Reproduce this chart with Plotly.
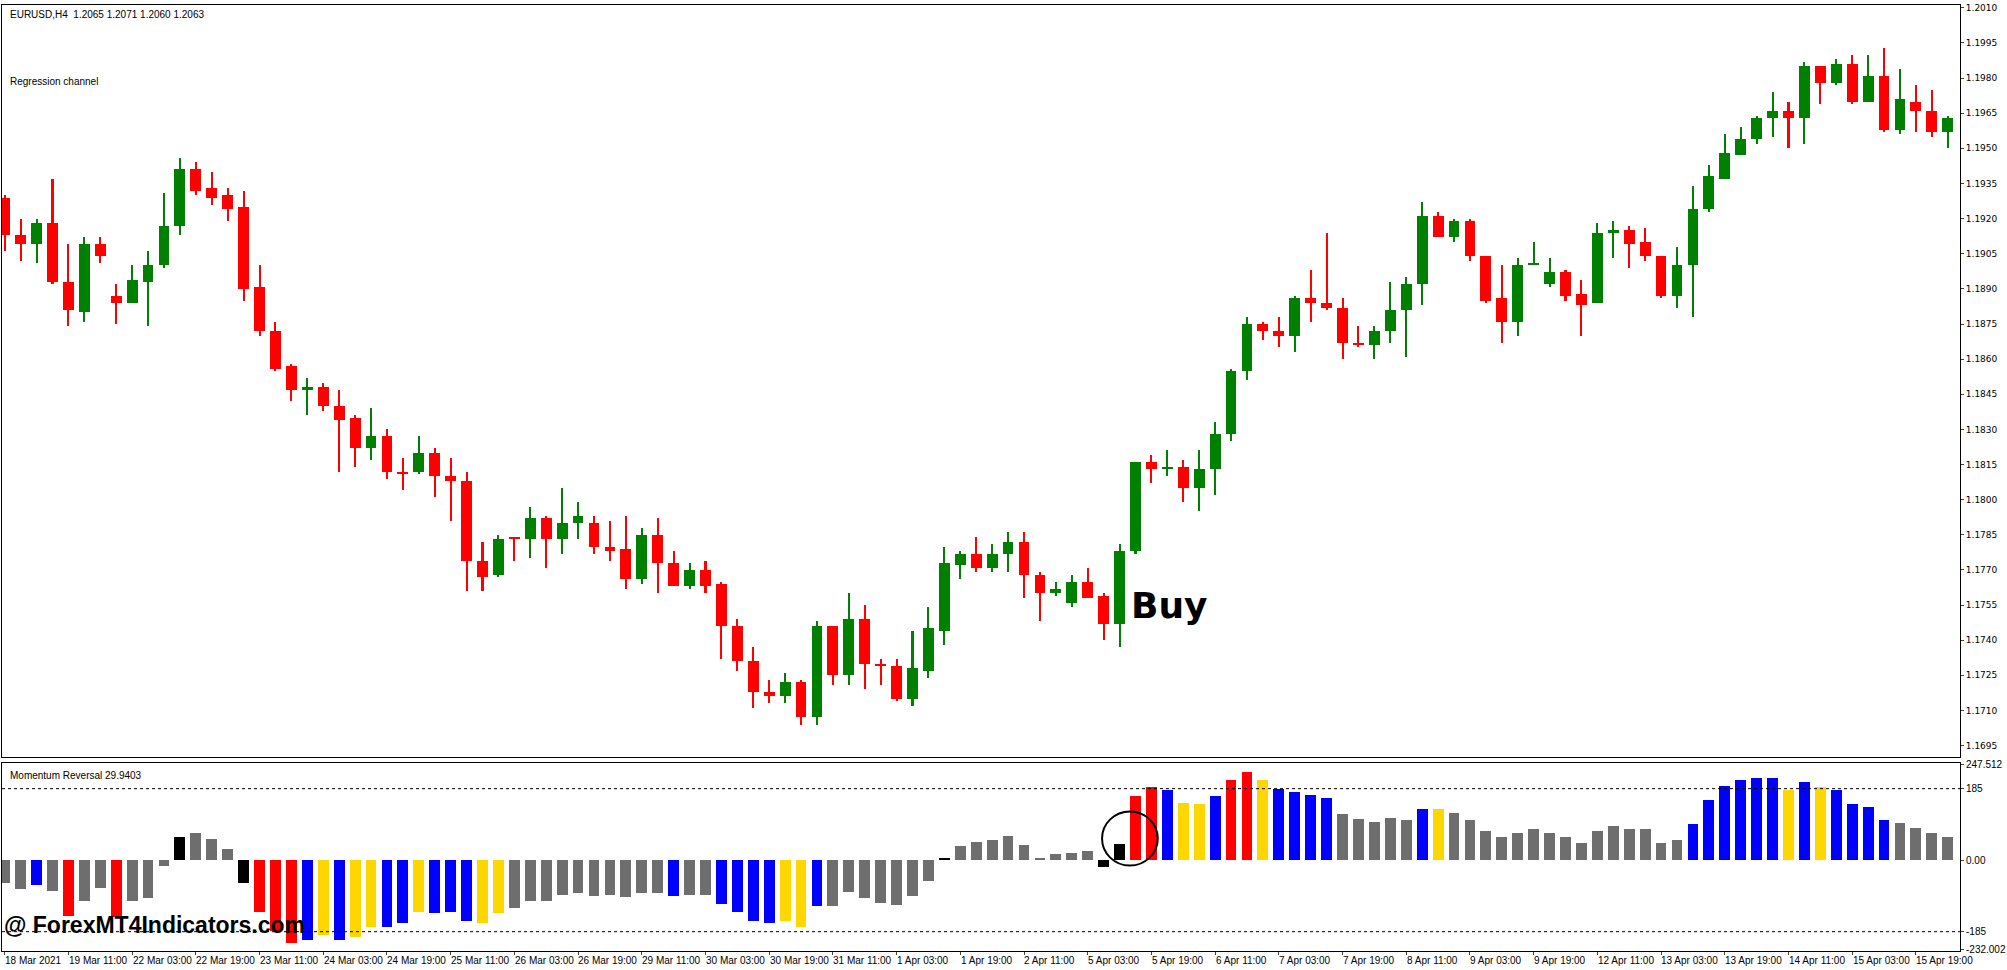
import plotly.graph_objects as go

opens = [1.1929,1.1913,1.1909,1.1918,1.1893,1.1880,1.1909,1.1887,1.1884,1.1893,1.1900,1.1917,1.1941,1.1933,1.1930,1.1925,1.1891,1.1872,1.1857,1.1847,
         1.1848,1.1840,1.1835,1.1822,1.1827,1.1812,1.1812,1.1820,1.1810,1.1808,1.1774,1.1768,1.1784,1.1783,1.1792,1.1783,1.1790,1.1790,1.1780,1.1779,
         1.1766,1.1785,1.1773,1.1763,1.1770,1.1764,1.1746,1.1731,1.1718,1.1716,1.1722,1.1707,1.1746,1.1725,1.1749,1.1730,1.1729,1.1715,1.1727,1.1744,
         1.1772,1.1777,1.1771,1.1777,1.1782,1.1768,1.1760,1.1756,1.1765,1.1759,1.1747,1.1778,1.1816,1.1813,1.1814,1.1805,1.1813,1.1828,1.1855,1.1875,
         1.1872,1.1870,1.1886,1.1884,1.1882,1.1867,1.1866,1.1872,1.1881,1.1892,1.1921,1.1912,1.1919,1.1904,1.1886,1.1876,1.1900,1.1892,1.1897,1.1888,
         1.1884,1.1914,1.1915,1.1910,1.1904,1.1887,1.1900,1.1924,1.1937,1.1947,1.1954,1.1963,1.1966,1.1963,1.1985,1.1978,1.1986,1.1970,1.1981,1.1958,
         1.1970,1.1966,1.1957]
highs = [1.1930,1.1920,1.1920,1.1937,1.1909,1.1912,1.1912,1.1892,1.1900,1.1906,1.1931,1.1946,1.1944,1.1940,1.1933,1.1932,1.1900,1.1876,1.1858,1.1852,
         1.1850,1.1847,1.1836,1.1839,1.1830,1.1818,1.1827,1.1822,1.1818,1.1812,1.1782,1.1785,1.1784,1.1797,1.1793,1.1805,1.1799,1.1793,1.1791,1.1793,
         1.1788,1.1792,1.1778,1.1773,1.1774,1.1765,1.1749,1.1737,1.1723,1.1726,1.1723,1.1748,1.1746,1.1760,1.1755,1.1732,1.1732,1.1744,1.1754,1.1780,
         1.1778,1.1784,1.1781,1.1786,1.1786,1.1769,1.1765,1.1768,1.1771,1.1760,1.1781,1.1816,1.1819,1.1821,1.1817,1.1821,1.1833,1.1856,1.1878,1.1876,
         1.1878,1.1887,1.1898,1.1914,1.1886,1.1874,1.1874,1.1893,1.1895,1.1927,1.1923,1.1920,1.1920,1.1904,1.1900,1.1903,1.1910,1.1903,1.1898,1.1894,
         1.1918,1.1919,1.1917,1.1916,1.1904,1.1908,1.1934,1.1943,1.1956,1.1959,1.1964,1.1974,1.1970,1.1987,1.1985,1.1988,1.1990,1.1990,1.1993,1.1984,
         1.1977,1.1975,1.1964]
lows = [1.1906,1.1902,1.1901,1.1892,1.1874,1.1876,1.1901,1.1875,1.1884,1.1874,1.1899,1.1913,1.1930,1.1926,1.1919,1.1885,1.1870,1.1855,1.1842,1.1836,
        1.1838,1.1812,1.1814,1.1817,1.1809,1.1804,1.1811,1.1801,1.1791,1.1761,1.1761,1.1767,1.1774,1.1775,1.1771,1.1777,1.1783,1.1777,1.1774,1.1762,
        1.1764,1.1760,1.1763,1.1762,1.1760,1.1732,1.1727,1.1711,1.1713,1.1713,1.1704,1.1704,1.1721,1.1721,1.1719,1.1721,1.1714,1.1712,1.1724,1.1738,
        1.1766,1.1769,1.1769,1.1769,1.1758,1.1748,1.1759,1.1754,1.1758,1.1740,1.1737,1.1777,1.1807,1.1810,1.1799,1.1795,1.1802,1.1825,1.1851,1.1868,
        1.1865,1.1863,1.1876,1.1881,1.1860,1.1865,1.1860,1.1867,1.1861,1.1883,1.1912,1.1910,1.1902,1.1884,1.1867,1.1870,1.1900,1.1891,1.1885,1.1870,
        1.1884,1.1903,1.1899,1.1902,1.1886,1.1882,1.1878,1.1923,1.1937,1.1947,1.1952,1.1955,1.1950,1.1952,1.1969,1.1977,1.1969,1.1970,1.1957,1.1956,
        1.1957,1.1955,1.1950]
closes = [1.1913,1.1909,1.1918,1.1893,1.1881,1.1909,1.1904,1.1884,1.1894,1.1900,1.1917,1.1941,1.1932,1.1929,1.1924,1.1890,1.1872,1.1856,1.1847,1.1848,
          1.1840,1.1834,1.1822,1.1827,1.1812,1.1811,1.1820,1.1810,1.1808,1.1774,1.1767,1.1783,1.1783,1.1792,1.1783,1.1790,1.1793,1.1780,1.1778,1.1766,
          1.1785,1.1773,1.1763,1.1770,1.1763,1.1746,1.1731,1.1718,1.1716,1.1722,1.1707,1.1746,1.1725,1.1749,1.1730,1.1729,1.1715,1.1728,1.1745,1.1773,
          1.1777,1.1771,1.1777,1.1782,1.1768,1.1760,1.1762,1.1765,1.1758,1.1747,1.1778,1.1816,1.1813,1.1814,1.1805,1.1813,1.1828,1.1855,1.1875,1.1872,
          1.1870,1.1886,1.1884,1.1882,1.1867,1.1866,1.1872,1.1881,1.1892,1.1921,1.1912,1.1919,1.1904,1.1885,1.1876,1.1900,1.1901,1.1897,1.1887,1.1883,
          1.1914,1.1915,1.1909,1.1904,1.1887,1.1900,1.1924,1.1938,1.1948,1.1954,1.1963,1.1966,1.1963,1.1985,1.1978,1.1986,1.1970,1.1981,1.1958,1.1971,
          1.1966,1.1957,1.1963]

momentum = [-59,-74,-64,-80,-144,-104,-71,-146,-104,-96,-14,60,70,55,30,-59,-134,-183,-213,-206,
            -193,-206,-198,-171,-171,-163,-134,-136,-134,-156,-161,-136,-124,-106,-106,-89,-84,-91,-89,-94,
            -84,-84,-91,-89,-89,-114,-134,-156,-161,-156,-171,-119,-119,-81,-96,-109,-116,-91,-54,7,
            37,47,52,62,40,7,17,20,25,-17,42,167,189,182,149,147,167,209,229,207,
            184,177,169,162,120,107,100,110,105,134,132,122,105,77,60,70,82,72,60,45,
            77,90,82,80,45,52,95,157,192,207,214,212,182,202,189,182,147,139,105,97,
            85,70,60]
mom_state = list("ggbgrggrgggkgggkrrrbybyybbybbbyyggggggggggbggbbbbyybgggggggkg"
                 "ggggggggkkrrbyybrrybbbbgggggbygggggggggggggggbbbbbbybybbbbgggg")

time_labels = ["18 Mar 2021","19 Mar 11:00","22 Mar 03:00","22 Mar 19:00","23 Mar 11:00","24 Mar 03:00",
               "24 Mar 19:00","25 Mar 11:00","26 Mar 03:00","26 Mar 19:00","29 Mar 11:00","30 Mar 03:00",
               "30 Mar 19:00","31 Mar 11:00","1 Apr 03:00","1 Apr 19:00","2 Apr 11:00","5 Apr 03:00",
               "5 Apr 19:00","6 Apr 11:00","7 Apr 03:00","7 Apr 19:00","8 Apr 11:00","9 Apr 03:00",
               "9 Apr 19:00","12 Apr 11:00","13 Apr 03:00","13 Apr 19:00","14 Apr 11:00","15 Apr 03:00","15 Apr 19:00"]
price_ticks = [1.1695 + 0.0015 * k for k in range(22)]
mom_ticks = [247.512, 185, 0.0, -185, -232.002]
mom_tick_text = ["247.512", "185", "0.00", "-185", "-232.002"]

n = len(opens)
xs = list(range(n))
state_color = {"g": "#6E6E6E", "b": "#0000FF", "y": "#FFD700", "r": "#FF0000", "k": "#000000"}
cc = ["#008000" if c >= o else "#FF0000" for o, c in zip(opens, closes)]

fig = go.Figure()
fig.add_trace(go.Bar(x=xs, base=lows, y=[h - l for h, l in zip(highs, lows)], width=0.13,
                     marker=dict(color=cc, line=dict(width=0)), xaxis="x", yaxis="y", hoverinfo="skip"))
fig.add_trace(go.Bar(x=xs, base=[min(o, c) for o, c in zip(opens, closes)],
                     y=[max(abs(c - o), 0.00008) for o, c in zip(opens, closes)], width=0.68,
                     marker=dict(color=cc, line=dict(width=0)), xaxis="x", yaxis="y"))
fig.add_trace(go.Bar(x=xs[:len(momentum)], y=momentum, width=0.68,
                     marker=dict(color=[state_color[s] for s in mom_state[:len(momentum)]], line=dict(width=0)),
                     xaxis="x2", yaxis="y2"))

xr = [-0.17, 122.77]
fig.update_layout(
    width=2007, height=970, margin=dict(l=1, r=40, t=5, b=19),
    paper_bgcolor="white", plot_bgcolor="white", showlegend=False, barmode="overlay", bargap=0,
    font=dict(family="DejaVu Sans", size=9, color="black"),
    xaxis=dict(domain=[0, 1], range=xr, anchor="y", showticklabels=False, ticks="", showgrid=False,
               zeroline=False, showline=True, linecolor="black", linewidth=1, mirror=True),
    yaxis=dict(domain=[0.2055, 1], range=[1.16903, 1.20112], side="right", tickvals=price_ticks,
               tickformat=".4f", ticks="outside", ticklen=3, showgrid=False, zeroline=False,
               showline=True, linecolor="black", linewidth=1, mirror=True, tickfont=dict(size=9)),
    xaxis2=dict(domain=[0, 1], range=xr, anchor="y2", tickvals=list(range(0, 124, 4)), ticktext=[""] * 31,
                ticks="outside", ticklen=3, showgrid=False, zeroline=False,
                showline=True, linecolor="black", linewidth=1, mirror=True),
    yaxis2=dict(domain=[0, 0.199], range=[-235, 252], side="right", tickvals=mom_ticks,
                ticktext=mom_tick_text, ticks="outside", ticklen=3, showgrid=False, zeroline=False,
                showline=True, linecolor="black", linewidth=1, mirror=True,
                tickfont=dict(family="Liberation Sans", size=10)),
)

for lv in (185, -185):
    fig.add_shape(type="line", xref="x2", yref="y2", x0=xr[0], x1=xr[1], y0=lv, y1=lv,
                  line=dict(color="black", width=1, dash="dot"))
fig.add_shape(type="circle", xref="x2", yref="y2", x0=68.9, x1=72.4, y0=-14, y1=126,
              line=dict(color="black", width=2))

for i, t in enumerate(time_labels):
    fig.add_annotation(x=i * 4 - 0.1, y=0, xref="x2", yref="paper", yshift=-2, text=t, showarrow=False,
                       xanchor="left", yanchor="top", font=dict(family="Liberation Sans", size=10))

fig.add_annotation(x=0.003, y=0.998, xref="paper", yref="paper", text="EURUSD,H4  1.2065 1.2071 1.2060 1.2063",
                   showarrow=False, xanchor="left", yanchor="top", font=dict(family="Liberation Sans", size=10))
fig.add_annotation(x=0.003, y=0.927, xref="paper", yref="paper", text="Regression channel",
                   showarrow=False, xanchor="left", yanchor="top", font=dict(family="Liberation Sans", size=10))
fig.add_annotation(x=0.003, y=0.193, xref="paper", yref="paper", text="Momentum Reversal 29.9403",
                   showarrow=False, xanchor="left", yanchor="top", font=dict(family="Liberation Sans", size=10))
fig.add_annotation(x=70.6, y=1.1755, xref="x", yref="y", text="<b>Buy</b>", showarrow=False,
                   xanchor="left", yanchor="middle", font=dict(family="DejaVu Sans", size=36))
fig.add_annotation(x=0.0, y=0.012, xref="paper", yref="paper", text="<b>@ ForexMT4Indicators.com</b>",
                   showarrow=False, xanchor="left", yanchor="bottom",
                   font=dict(family="Liberation Sans", size=23))

fig.write_html("out.html", config={"displayModeBar": False},
               post_script="document.body.style.margin='0';document.body.style.overflow='hidden';")
